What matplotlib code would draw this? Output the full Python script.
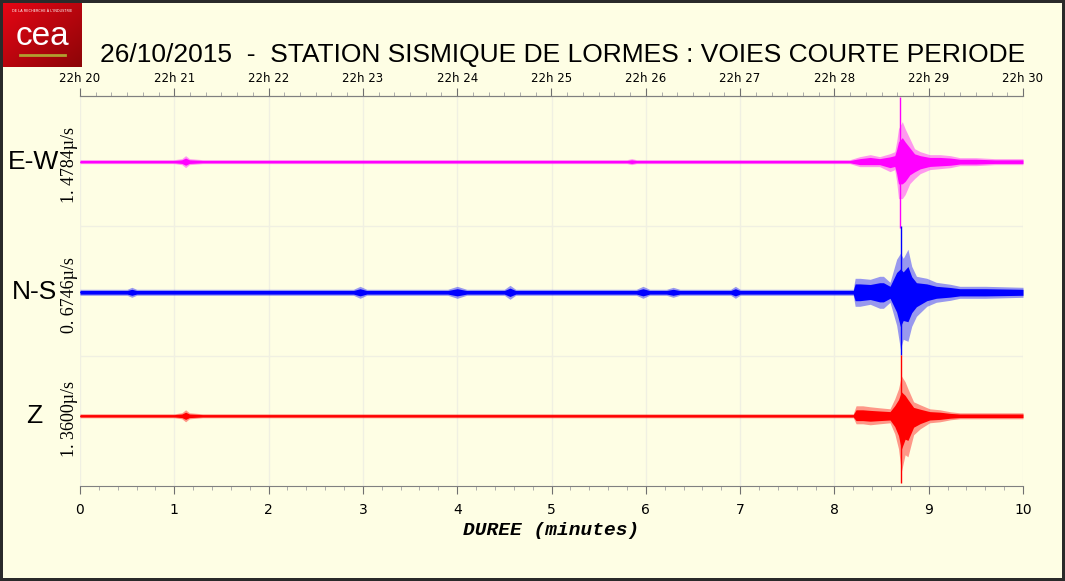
import numpy as np
import matplotlib
matplotlib.use('Agg')
import matplotlib.pyplot as plt
from matplotlib.ticker import MultipleLocator, FixedLocator

# ---- data (time in minutes, envelope in pixels above / below the trace centre)
ew_t  = [0, 0.5, 1.0, 1.08, 1.12, 1.16, 1.3, 2, 3, 4, 5, 5.8, 5.85, 5.9, 7, 8.0,
         8.165, 8.27, 8.38, 8.48, 8.59, 8.64, 8.66, 8.68, 8.72, 8.75, 8.80, 8.85,
         8.91, 9.01, 9.12, 9.23, 9.33, 9.5, 9.7, 10]
ew_up = [2, 2, 2, 3, 6, 3, 2, 2, 2, 2, 2, 2, 3, 2, 2, 2,
         2, 5, 7, 5, 8, 10, 20, 33, 40, 33, 23, 13, 10, 7, 7, 6, 4, 4, 3, 3]
ew_lo = [2, 2, 2, 3, 6, 3, 2, 2, 2, 2, 2, 2, 3, 2, 2, 2,
         2, 5, 5, 5, 10, 8, 20, 37, 37, 33, 22, 17, 12, 8, 7, 6, 4, 4, 3, 3]

ns_t  = [0, 0.5, 0.55, 0.6, 1, 1.5, 2, 2.9, 2.97, 3.04, 3.9, 4.0, 4.1, 4.5, 4.56,
         4.62, 5, 5.5, 5.9, 5.97, 6.04, 6.22, 6.29, 6.36, 6.9, 6.95, 7.0, 7.5, 8,
         8.2, 8.22, 8.27, 8.38, 8.48, 8.52, 8.59, 8.66, 8.70, 8.73, 8.78, 8.82,
         8.87, 8.98, 9.08, 9.23, 9.33, 9.6, 10]
ns_up = [3, 3, 5, 3, 3, 3, 3, 3, 6, 3, 3, 6, 3, 3, 7,
         3, 3, 3, 3, 6, 3, 3, 5, 3, 3, 6, 3, 3, 3,
         3, 14, 14, 13, 16, 16, 10, 33, 39, 34, 43, 26, 16, 14, 10, 8, 6, 6, 5]
ns_lo = [3, 3, 5, 3, 3, 3, 3, 3, 6, 3, 3, 6, 3, 3, 7,
         3, 3, 3, 3, 6, 3, 3, 5, 3, 3, 6, 3, 3, 3,
         3, 14, 14, 12, 16, 16, 10, 33, 57, 47, 49, 34, 24, 14, 10, 8, 6, 6, 5]

z_t  = [0, 0.5, 1.0, 1.08, 1.12, 1.16, 1.3, 2, 3, 4, 5, 6, 7, 8, 8.2,
        8.23, 8.3, 8.38, 8.48, 8.59, 8.64, 8.68, 8.71, 8.75, 8.78, 8.84, 8.91,
        9.01, 9.12, 9.23, 9.33, 9.6, 10]
z_up = [2, 2, 2, 3, 6, 3, 2, 2, 2, 2, 2, 2, 2, 2, 2,
        10, 10, 9, 8, 7, 17, 27, 40, 34, 27, 14, 11, 7, 6, 4, 3, 3, 3]
z_lo = [2, 2, 2, 3, 6, 3, 2, 2, 2, 2, 2, 2, 2, 2, 2,
        8, 8, 9, 8, 7, 18, 33, 56, 39, 41, 19, 13, 7, 6, 4, 3, 3, 3]

# clipped main spikes: time, top, bottom (pixels)
spikes = {'E-W': (8.70, 65, 66), 'N-S': (8.71, 66, 63), 'Z': (8.71, 61, 67)}

channels   = ['E-W', 'N-S', 'Z']
amp_labels = ['1. 4784\u00b5/s', '0. 6746\u00b5/s', '1. 3600\u00b5/s']
colors     = ['#ff00ff', '#0000ff', '#ff0000']
centres    = [2.495, 1.49, 0.54]
top_labels = ['22h %d' % m for m in range(20, 31)]

PX = 130.0   # pixels per y unit
BG = '#fefee4'

fig = plt.figure(figsize=(10.65, 5.81), dpi=100, facecolor=BG)
fig.patch.set_edgecolor('#2a2a2a')
fig.patch.set_linewidth(4)

ax = fig.add_axes([80/1065, 1-486/581, 943/1065, 390/581])
ax.set_facecolor(BG)
ax.set_xlim(0, 10)
ax.set_ylim(0, 3)

# faint grid
for m in range(0, 11):
    ax.axvline(m, color='#f0f0e2', lw=1, zorder=0)
for yy in (1, 2):
    ax.axhline(yy, color='#f0f0e2', lw=1, zorder=0)

series = [(ew_t, ew_up, ew_lo), (ns_t, ns_up, ns_lo), (z_t, z_up, z_lo)]
for (t, up, lo), c, y0, ch in zip(series, colors, centres, channels):
    t = np.array(t)
    up = np.array(up) / PX
    lo = np.array(lo) / PX
    ax.fill_between(t, y0 + up, y0 - lo, color=c, alpha=0.4, lw=0, zorder=2)
    ax.fill_between(t, y0 + 0.6*up, y0 - 0.6*lo, color=c, alpha=1.0, lw=0, zorder=3)
    ax.plot(t, np.full(len(t), y0), color=c, lw=0.6, zorder=3)
    st, sup, slo = spikes[ch]
    ax.vlines(st, y0 - slo/PX, y0 + sup/PX, color=c, lw=1, zorder=4)

for sp in ('left', 'right'):
    ax.spines[sp].set_visible(False)
for sp in ('top', 'bottom'):
    ax.spines[sp].set_color('#808080')
ax.set_yticks([])

ax.xaxis.set_major_locator(MultipleLocator(1))
ax.xaxis.set_minor_locator(MultipleLocator(0.2))
ax.tick_params(axis='x', which='major', length=6, color='#707070', labelsize=10, pad=6)
ax.tick_params(axis='x', which='minor', length=3, color='#a0a0a0')
ax.set_xlabel('DUREE (minutes)', family='Liberation Mono', fontweight='bold',
              fontstyle='italic', fontsize=14, labelpad=4)

top = ax.secondary_xaxis('top')
top.xaxis.set_major_locator(FixedLocator(range(0, 11)))
top.xaxis.set_minor_locator(MultipleLocator(1/6))
top.set_xticklabels(top_labels)
top.tick_params(axis='x', which='major', length=6, color='#707070', labelsize=8.5, pad=2)
top.tick_params(axis='x', which='minor', length=3, color='#a0a0a0')
top.spines['top'].set_color('#808080')

# channel labels
for ch, lab, y0 in zip(channels, amp_labels, centres):
    ax.text(-46/94.3, y0, ch, fontsize=19, family='Liberation Sans',
            ha='center', va='center', zorder=5)
    ax.text(-11/94.3, y0 - 3/PX, lab, fontsize=13, family='Liberation Serif',
            rotation=90, ha='center', va='center', zorder=5)

fig.text(563/1065, 1-55/581,
         '26/10/2015  -  STATION SISMIQUE DE LORMES : VOIES COURTE PERIODE',
         fontsize=19, family='Liberation Sans', ha='center', va='center')

# logo
lax = fig.add_axes([3/1065, 1-67/581, 79/1065, 64/581])
grad = np.linspace(0, 1, 100)
gx, gy = np.meshgrid(grad, grad)
g = 0.5*gx + 0.5*gy
img = np.zeros((100, 100, 3))
img[..., 0] = 0.9 - 0.35*g
img[..., 1] = 0.02
img[..., 2] = 0.08 - 0.05*g
lax.imshow(img, extent=[0, 1, 0, 1], aspect='auto', origin='upper')
lax.text(0.5, 0.48, 'cea', color='white', fontsize=24, family='Liberation Sans',
         ha='center', va='center')
lax.plot([0.22, 0.78], [0.18, 0.18], color='#b0a030', lw=2)
lax.text(0.5, 0.87, "DE LA RECHERCHE \u00c0 L'INDUSTRIE", color='white', fontsize=2.5,
         ha='center', va='center')
lax.set_xlim(0, 1)
lax.set_ylim(0, 1)
lax.axis('off')

fig.savefig('out.png', dpi=100, facecolor=BG, edgecolor='#2a2a2a')
